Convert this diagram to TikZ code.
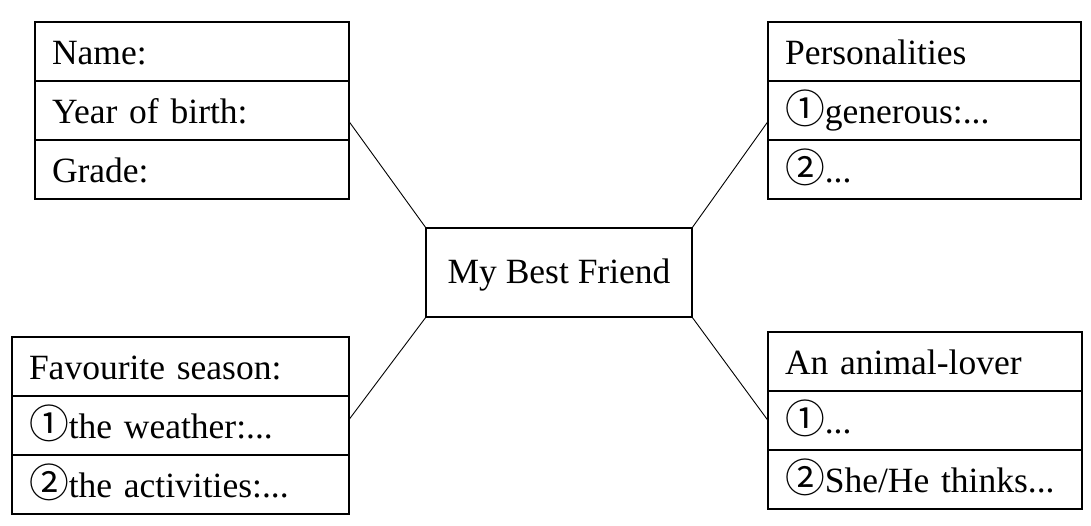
\documentclass[tikz,border=0pt]{standalone}
\usepackage{fontspec}
\usetikzlibrary{positioning}
\setmainfont{Liberation Serif}
\newfontfamily\circfont[Scale=1.12]{Noto Sans CJK SC}
\newcommand{\circno}[1]{{\circfont #1}}
\tikzset{
  cell/.style={draw, line width=1.1pt, outer sep=0pt, anchor=north west,
    minimum height=59pt, inner xsep=17pt, inner ysep=0pt,
    text height=29pt, text depth=3pt, text width=#1, align=left,
    font=\fontsize{35.5pt}{42pt}\selectfont},
  hubbox/.style={draw, line width=1.1pt, outer sep=0pt,
    minimum width=266pt, minimum height=89pt,
    text height=23pt, text depth=2pt,
    font=\fontsize{35.5pt}{42pt}\selectfont},
  link/.style={line width=0.9pt}
}
\begin{document}
\begin{tikzpicture}[x=1pt,y=-1pt]
\useasboundingbox (0,0) rectangle (1091,525);

% Centre
\node[hubbox] (hub) at (559,272.5) {My Best Friend};

% Top left: basic facts
\node[cell=280pt] (tl1) at (35,22) {Name:};
\node[cell=280pt, below=0pt of tl1] (tl2) {Year of birth:};
\node[cell=280pt, below=0pt of tl2] (tl3) {Grade:};

% Top right: personalities
\node[cell=279pt] (tr1) at (768,22) {Personalities};
\node[cell=279pt, below=0pt of tr1] (tr2) {\circno{①}generous:...};
\node[cell=279pt, below=0pt of tr2] (tr3) {\circno{②}...};

% Bottom left: favourite season
\node[cell=303pt] (bl1) at (12,337) {Favourite season:};
\node[cell=303pt, below=0pt of bl1] (bl2) {\circno{①}the weather:...};
\node[cell=303pt, below=0pt of bl2] (bl3) {\circno{②}the activities:...};

% Bottom right: animal-lover
\node[cell=280pt] (br1) at (768,332) {An animal-lover};
\node[cell=280pt, below=0pt of br1] (br2) {\circno{①}...};
\node[cell=280pt, below=0pt of br2] (br3) {\circno{②}She/He thinks...};

% Links to the centre
\draw[link] (tl2.-4.7) -- (hub.north west);
\draw[link] (tr2.184.7) -- (hub.north east);
\draw[link] (bl2.2) -- (hub.south west);
\draw[link] (br2.west) -- (hub.south east);

\end{tikzpicture}
\end{document}
